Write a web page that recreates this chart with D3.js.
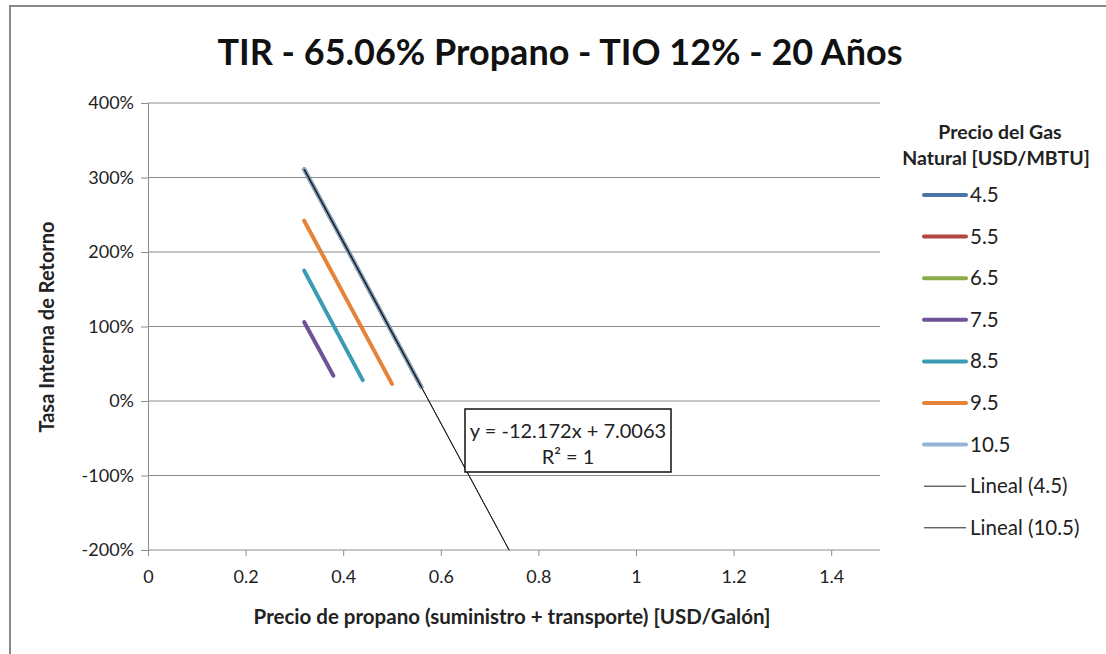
<!DOCTYPE html>
<html>
<head>
<meta charset="utf-8">
<script src="https://cdn.jsdelivr.net/npm/d3@7"></script>
<style>
  body { margin: 0; background: #fff; }
  svg text { font-family: Lato, "Open Sans", sans-serif; fill: #222; }
</style>
</head>
<body>
<svg id="chart" width="1106" height="654"></svg>
<script>
// series names (gas price, USD/MBTU)
var seriesNames = ["4.5", "5.5", "6.5", "7.5", "8.5", "9.5", "10.5"];
var seriesColors = ["#4a74a8", "#b04542", "#8aac4a", "#6f5297", "#3b9bb2", "#e3843a", "#95b3d7"];

// propane price [USD/gallon] and IRR (fraction) for each series
var x45 = [0.32, 0.56], y45 = [3.11, 0.19];
var x55 = [0.32, 0.56], y55 = [3.11, 0.19];
var x65 = [0.32, 0.56], y65 = [3.11, 0.19];
var x75 = [0.32, 0.38], y75 = [1.06, 0.34];
var x85 = [0.32, 0.44], y85 = [1.75, 0.28];
var x95 = [0.32, 0.50], y95 = [2.42, 0.23];
var x105 = [0.32, 0.56], y105 = [3.11, 0.19];

// linear trend lines: slope, intercept
var trendNames = ["Lineal (4.5)", "Lineal (10.5)"];
var trendSlope = -12.172, trendIntercept = 7.0063;
var trendX = [0.32, 0.74];

var xTicks = [0, 0.2, 0.4, 0.6, 0.8, 1, 1.2, 1.4];
var yTicks = [-2, -1, 0, 1, 2, 3, 4];

var seriesX = [x45, x55, x65, x75, x85, x95, x105];
var seriesY = [y45, y55, y65, y75, y85, y95, y105];

var svg = d3.select("#chart");

// outer frame (left and top edges visible)
svg.append("path")
    .attr("d", "M10,654 L10,6 L1106,6")
    .attr("fill", "none")
    .attr("stroke", "#888")
    .attr("stroke-width", 2);

var margin = { left: 148, top: 103, right: 880, bottom: 550 };

var x = d3.scaleLinear().domain([0, 1.5]).range([margin.left, margin.right]);
var y = d3.scaleLinear().domain([-2, 4]).range([margin.bottom, margin.top]);

// title
svg.append("text")
    .attr("x", 560).attr("y", 65)
    .attr("text-anchor", "middle")
    .style("font-size", "36px")
    .style("font-weight", "bold")
    .style("fill", "#111")
    .text("TIR - 65.06% Propano - TIO 12% - 20 Años");

// gridlines
svg.append("g")
    .selectAll("line")
    .data(yTicks.filter(function(d) { return d > -2; }))
    .enter().append("line")
    .attr("x1", margin.left).attr("x2", margin.right)
    .attr("y1", function(d) { return y(d); })
    .attr("y2", function(d) { return y(d); })
    .attr("stroke", "#8c8c8c")
    .attr("stroke-width", 1);

// y axis
var yAxis = svg.append("g")
    .attr("transform", "translate(" + margin.left + ",0)")
    .call(d3.axisLeft(y).tickValues(yTicks).tickSize(7).tickPadding(7)
        .tickFormat(function(d) { return Math.round(d * 100) + "%"; }));
yAxis.select(".domain").attr("stroke", "#8c8c8c");
yAxis.selectAll(".tick line").attr("stroke", "#8c8c8c");
yAxis.selectAll("text").style("font-size", "18px").style("font-family", "Lato, sans-serif").attr("fill", "#222");

// x axis
var xAxis = svg.append("g")
    .attr("transform", "translate(0," + margin.bottom + ")")
    .call(d3.axisBottom(x).tickValues(xTicks).tickSize(6).tickPadding(14)
        .tickFormat(function(d) { return d; }));
xAxis.select(".domain").attr("stroke", "#8c8c8c").attr("d", "M" + margin.left + ",0H" + margin.right);
xAxis.selectAll(".tick line").attr("stroke", "#8c8c8c");
xAxis.selectAll("text").style("font-size", "18px").style("font-family", "Lato, sans-serif").attr("fill", "#222");

// axis titles
svg.append("text")
    .attr("transform", "translate(54,327) rotate(-90)")
    .attr("text-anchor", "middle")
    .style("font-size", "20px")
    .style("font-weight", "bold")
    .text("Tasa Interna de Retorno");

svg.append("text")
    .attr("x", 512).attr("y", 624)
    .attr("text-anchor", "middle")
    .style("font-size", "20.5px")
    .style("font-weight", "bold")
    .text("Precio de propano (suministro + transporte) [USD/Galón]");

// data series
var line = d3.line()
    .x(function(d) { return x(d[0]); })
    .y(function(d) { return y(d[1]); });

seriesNames.forEach(function(name, i) {
    var pts = seriesX[i].map(function(v, j) { return [v, seriesY[i][j]]; });
    svg.append("path")
        .datum(pts)
        .attr("fill", "none")
        .attr("stroke", seriesColors[i])
        .attr("stroke-width", 4)
        .attr("stroke-linecap", "round")
        .attr("d", line);
});

// dark core of the 4.5 series under the trend line
svg.append("path")
    .datum(x45.map(function(v, j) { return [v, y45[j]]; }))
    .attr("fill", "none")
    .attr("stroke", "#3c5a85")
    .attr("stroke-width", 2)
    .attr("d", line);

// trend lines
trendNames.forEach(function(n) {
    svg.append("path")
        .datum(trendX.map(function(v) { return [v, trendSlope * v + trendIntercept]; }))
        .attr("fill", "none")
        .attr("stroke", "#222")
        .attr("stroke-width", 1)
        .attr("d", line);
});

// equation box
var eq = svg.append("g");
eq.append("rect")
    .attr("x", 465).attr("y", 409).attr("width", 206).attr("height", 63)
    .attr("fill", "#fff")
    .attr("stroke", "#111")
    .attr("stroke-width", 1.5);
eq.append("text")
    .attr("x", 568).attr("y", 438)
    .attr("text-anchor", "middle")
    .style("font-size", "20px")
    .text("y = -12.172x + 7.0063");
eq.append("text")
    .attr("x", 568).attr("y", 464)
    .attr("text-anchor", "middle")
    .style("font-size", "20px")
    .text("R² = 1");

// legend
var legend = svg.append("g");
legend.append("text")
    .attr("x", 1000).attr("y", 139)
    .attr("text-anchor", "middle")
    .style("font-size", "19.5px").style("font-weight", "bold")
    .text("Precio del Gas");
legend.append("text")
    .attr("x", 996).attr("y", 165)
    .attr("text-anchor", "middle")
    .style("font-size", "19.5px").style("font-weight", "bold")
    .text("Natural [USD/MBTU]");

var legendItems = seriesNames.map(function(n, i) {
    return { label: n, color: seriesColors[i], width: 4 };
}).concat(trendNames.map(function(n) {
    return { label: n, color: "#222", width: 1 };
}));

legendItems.forEach(function(d, i) {
    var ly = 195 + i * 41.6;
    legend.append("line")
        .attr("x1", 924).attr("x2", 966)
        .attr("y1", ly).attr("y2", ly)
        .attr("stroke", d.color)
        .attr("stroke-width", d.width)
        .attr("stroke-linecap", d.width > 1 ? "round" : "butt");
    legend.append("text")
        .attr("x", 970).attr("y", ly + 7)
        .style("font-size", "20.5px")
        .text(d.label);
});
</script>
</body>
</html>
